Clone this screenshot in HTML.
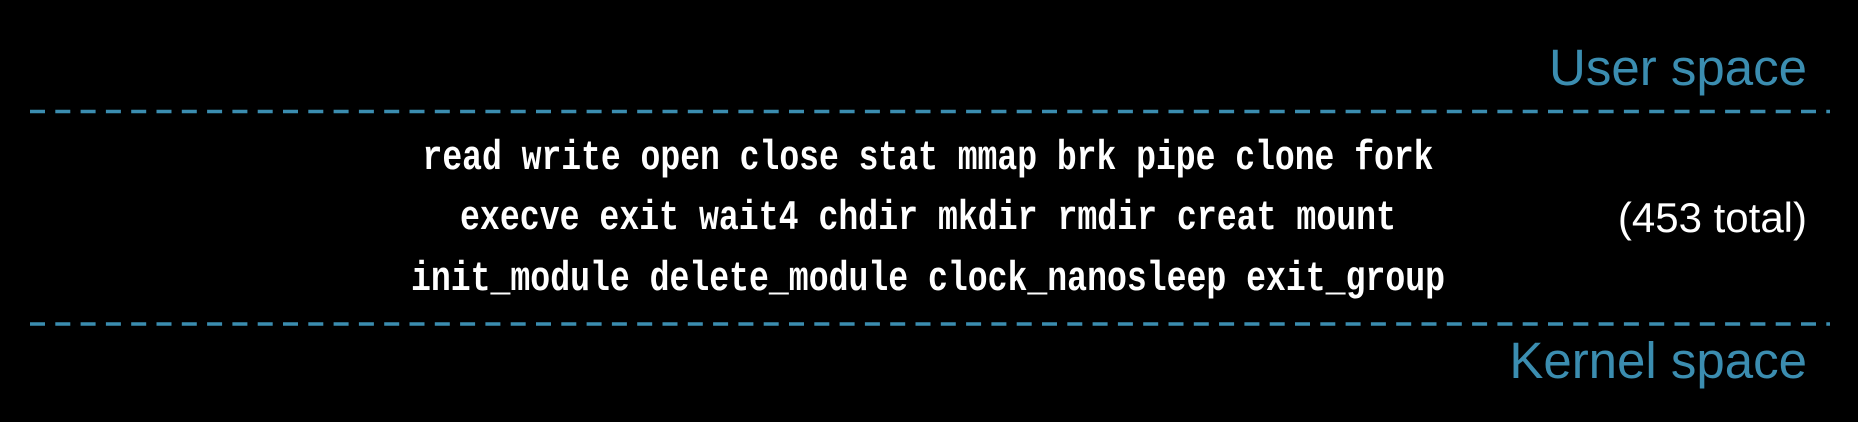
<!DOCTYPE html>
<html><head><meta charset="utf-8"><style>
html,body{margin:0;padding:0;background:#000;}
body{width:1858px;height:422px;overflow:hidden;position:relative;}
svg{position:absolute;left:0;top:0;}
</style></head><body>
<svg width="1858" height="422" xmlns="http://www.w3.org/2000/svg">
<rect width="1858" height="422" fill="#000"/>
<line x1="30" y1="111.5" x2="1830" y2="111.5" stroke="#3b8db0" stroke-width="3.5" stroke-dasharray="15 10.3"/>
<line x1="30" y1="324" x2="1830" y2="324" stroke="#3b8db0" stroke-width="3.5" stroke-dasharray="15 10.3"/>
<g font-family="Liberation Sans, sans-serif" fill="#3b8db0" font-size="51" text-anchor="end">
<text x="1807" y="85">User space</text>
<text x="1807" y="378">Kernel space</text>
</g>
<g font-family="Liberation Mono, monospace" fill="#fff" font-size="42" text-anchor="middle" font-weight="bold">
<text x="928" y="169" textLength="1011" lengthAdjust="spacingAndGlyphs">read write open close stat mmap brk pipe clone fork</text>
<text x="928" y="229" textLength="936" lengthAdjust="spacingAndGlyphs">execve exit wait4 chdir mkdir rmdir creat mount</text>
<text x="928" y="290" textLength="1034" lengthAdjust="spacingAndGlyphs">init_module delete_module clock_nanosleep exit_group</text>
</g>
<text x="1807" y="232" font-family="Liberation Sans, sans-serif" fill="#fff" font-size="42" text-anchor="end">(453 total)</text>
</svg>
</body></html>
